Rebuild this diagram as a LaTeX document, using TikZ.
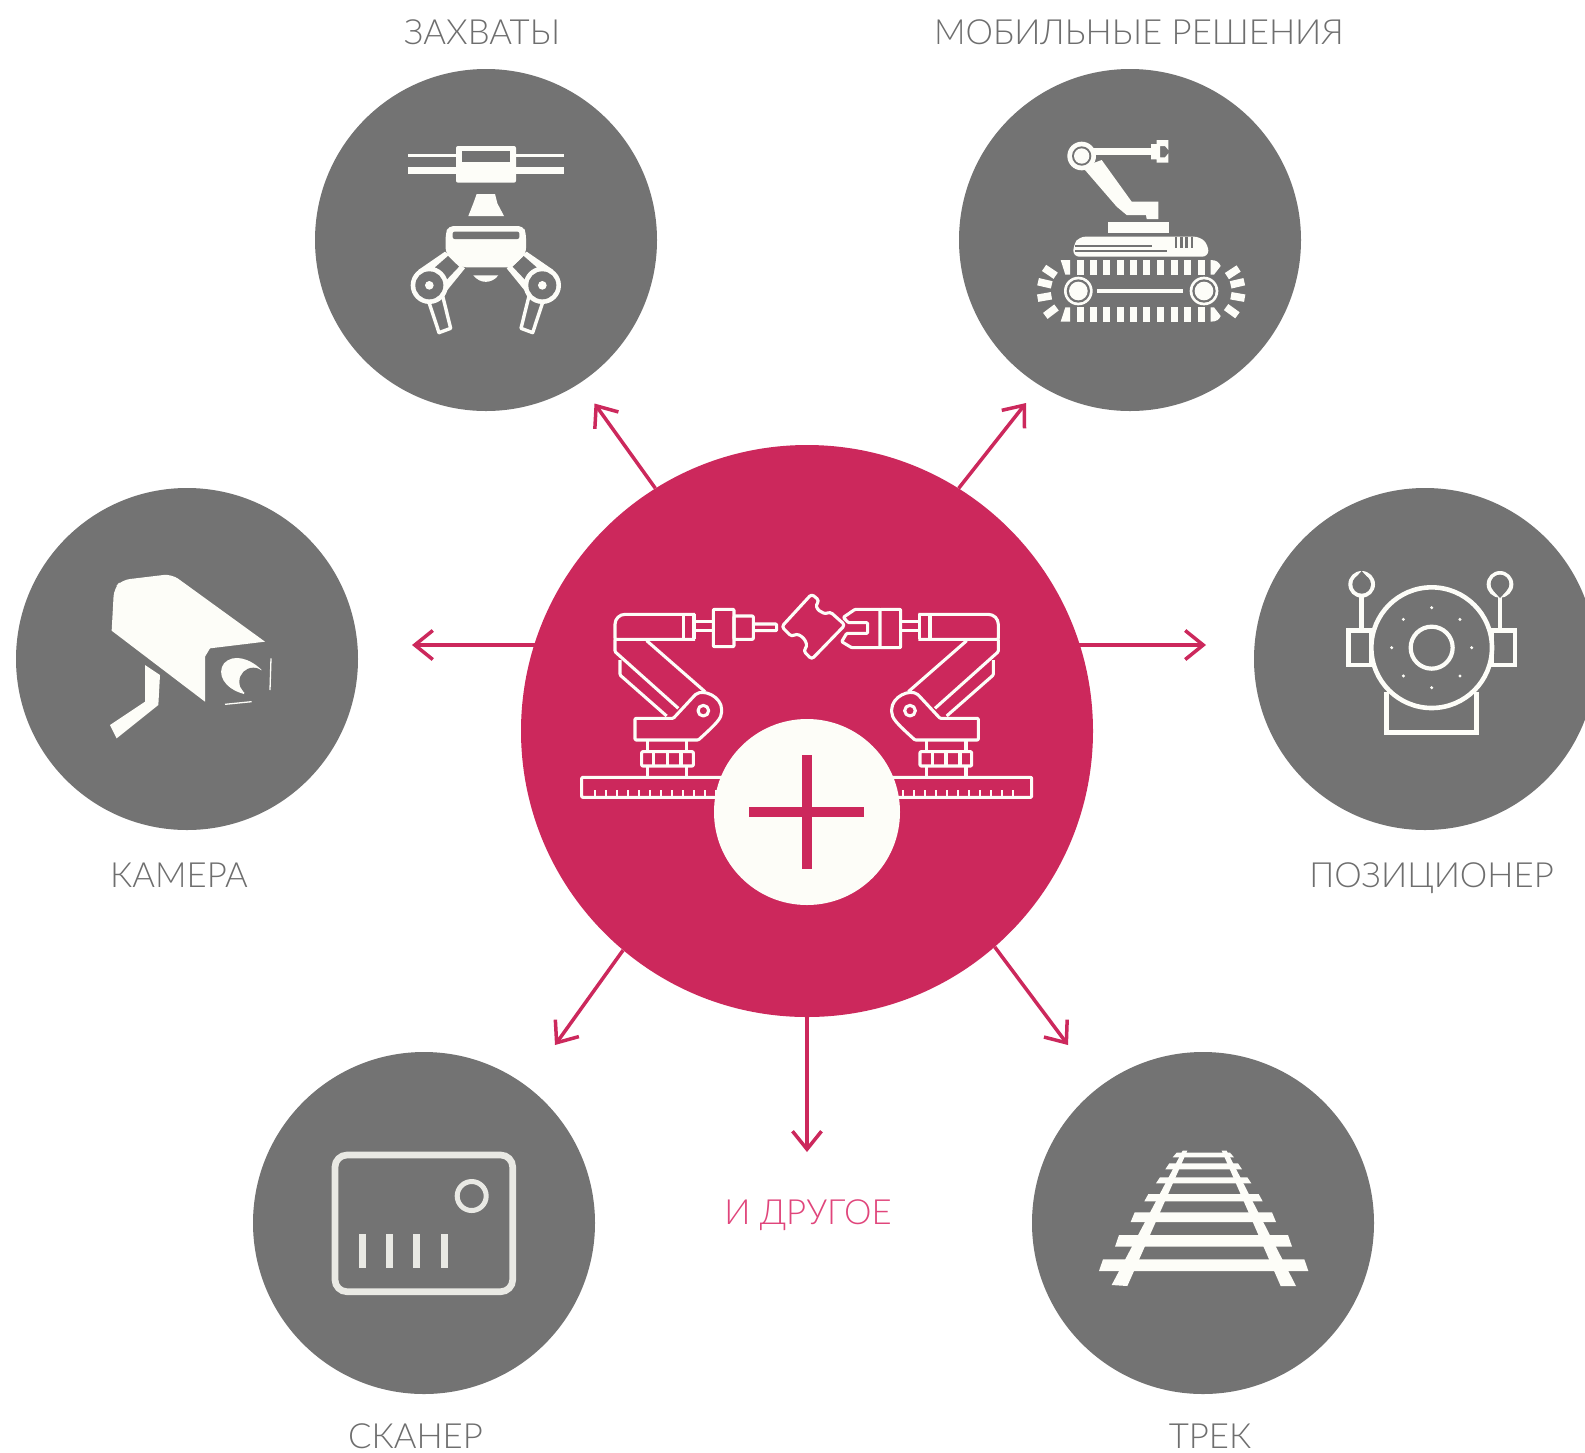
\documentclass[tikz,border=0pt]{standalone}
\usepackage{fontspec}
\setmainfont{Lato}[UprightFont={* Light}]
\usetikzlibrary{arrows.meta}
\definecolor{gr}{HTML}{737373}
\definecolor{crim}{HTML}{CC285C}
\definecolor{ic}{HTML}{FDFDF8}
\definecolor{scanc}{HTML}{E9E9E4}
\definecolor{lab}{HTML}{6E6E6E}
\definecolor{pinklab}{HTML}{E0457B}
\tikzset{
  disc/.style={circle,fill=gr,inner sep=0pt,minimum size=342pt},
  lbl/.style={text=lab,inner sep=0pt,anchor=base,font=\fontsize{34.7}{40}\selectfont},
  arr/.style={draw=crim,line width=3.5pt,-{Straight Barb[length=18pt,width=29pt,line width=3.5pt]}},
  zoomed/.style={x=0.33333pt,y=-0.33333pt},
  rob/.style={draw=ic,line width=3.1pt,line join=round,rounded corners=1pt}
}
\newcommand{\gripperarm}{%
  \draw[ic,line width=3.4pt,fill=gr,line join=round] (138,520)--(186,520)--(212,625)--(177,638)--cycle;
  \fill[ic] (195,395)--(255,445)--(190,525)--(115,450)--cycle;
  \fill[gr] (204,408)--(237,440)--(201,478)--(165,442)--cycle;
  \fill[ic] (148,496) circle[radius=56];
  \fill[gr] (148,496) circle[radius=42];
  \fill[ic] (148,496) circle[radius=13];
}
\newcommand{\robotarm}{%
  \draw[rob] (375,178)--(135,178)[rounded corners=10pt]--(135,103)--(375,103);
  \draw[rob] (340,103)--(340,178) (372,103)--(372,178);
  \draw[rob] (135,178)--(135,215)--(325,385);
  \draw[rob] (230,182)--(405,335);
  \draw[rob] (150,240)--(150,285)--(290,408);
  \draw[rob] (195,415)--(310,415)--(375,345) .. controls (400,325) and (455,350) .. (455,392) .. controls (455,415) and (440,430) .. (385,480)--(195,480)--cycle;
  \draw[rob] (400,392) circle[radius=16];
  \draw[rob] (232,482)--(232,515) (350,482)--(350,515);
  \draw[rob] (215,515) rectangle (370,558);
  \draw[rob] (250,515)--(250,558) (292,515)--(292,558) (333,515)--(333,558);
  \draw[rob] (232,558)--(232,592) (350,558)--(350,592);
}
\begin{document}
\begin{tikzpicture}[x=1pt,y=-1pt]
\useasboundingbox (0,0) rectangle (1585,1452);
\fill[white] (0,0) rectangle (1585,1452);

% arrows' free ends
\coordinate (eTL) at (594.5,403.5);
\coordinate (eTR) at (1026,403);
\coordinate (eL) at (412,645);
\coordinate (eR) at (1206,645);
\coordinate (eBL) at (555,1045);
\coordinate (eBR) at (1068,1045);
\coordinate (eD) at (807,1152);

% discs
\node[disc] (grip) at (486,240) {};
\node[disc] (mob) at (1130,240) {};
\node[disc] (cam) at (187,659) {};
\node[disc] (pos) at (1425,659) {};
\node[disc] (scan) at (424,1223) {};
\node[disc] (track) at (1203,1223) {};
\node[circle,fill=crim,inner sep=0pt,minimum size=572pt] (core) at (807,731) {};
\path (core.center) ++(-271,-86) coordinate (sL);
\path (core.center) ++(271,-86) coordinate (sR);

% connectors
\draw[arr] (core.122) -- (eTL);
\draw[arr] (core.58.5) -- (eTR);
\draw[arr] (sL) -- (eL);
\draw[arr] (sR) -- (eR);
\draw[arr] (core.230.5) -- (eBL);
\draw[arr] (core.-49.6) -- (eBR);
\draw[arr] (core.-90) -- (eD);

% labels
\node[lbl] (l1) at (482,44.5) {ЗАХВАТЫ};
\node[lbl] (l2) at (1139,44.5) {МОБИЛЬНЫЕ РЕШЕНИЯ};
\node[lbl] (l3) at (179,887.5) {КАМЕРА};
\node[lbl] (l4) at (1431.5,887.5) {ПОЗИЦИОНЕР};
\node[lbl,text=pinklab] (l5) at (808,1224.5) {И ДРУГОЕ};
\node[lbl] (l6) at (415.5,1448) {СКАНЕР};
\node[lbl] (l7) at (1210,1448) {ТРЕК};

% gripper icon
\begin{scope}[shift={(380,120)},zoomed]
  \fill[ic] (83,102) rectangle (552,112);
  \fill[ic] (83,142) rectangle (552,162);
  \fill[ic,rounded corners=2pt] (228,78) rectangle (408,188);
  \fill[gr] (245,93) rectangle (390,127);
  \fill[ic] (290,222)--(345,222)--(352,250)--(372,288)--(265,288)--(280,250)--cycle;
  \gripperarm
  \begin{scope}[shift={(635,0)},xscale=-1]\gripperarm\end{scope}
  \fill[ic,rounded corners=5pt] (197,340)--(205,318)--(430,318)--(438,340)--(438,400)--(395,442)--(245,442)--(197,400)--cycle;
  \fill[gr,rounded corners=2pt] (218,335) rectangle (418,357);
  \fill[ic] (280,466) .. controls (300,492) and (335,492) .. (355,466) -- cycle;
\end{scope}

% mobile icon
\begin{scope}[shift={(1020,120)},zoomed]
  \fill[ic] (205,84) rectangle (395,104);
  \fill[ic] (410,60)--(445,60)--(445,90)--(435,78)--(420,78)--(420,112)--(435,112)--(445,100)--(445,128)--(410,128)--(410,118)--(393,118)--(393,72)--(410,72)--cycle;
  \fill[ic] (205,135)--(245,120)--(335,245)--(415,245)--(415,297)--(380,297)--(378,285)--(320,285)--(290,260)--(195,150)--cycle;
  \fill[ic] (185,108) circle[radius=43];
  \fill[gr] (185,108) circle[radius=29];
  \fill[ic] (185,108) circle[radius=23];
  \fill[ic] (265,305) rectangle (448,340);
  \fill[ic,rounded corners=6pt] (160,410)--(160,375)--(178,350)--(540,350)--(565,375)--(565,410)--cycle;
  \fill[gr] (165,375) rectangle (395,381);
  \fill[gr] (165,391) rectangle (440,397);
  \foreach \xx in {468,484,500,516} \fill[gr] (\xx-4,352) rectangle (\xx+4,385);
  \foreach \xx in {180,220,260,300,340,380,420,462,503,543} {
    \fill[ic] (\xx-10.5,420) rectangle (\xx+10.5,464);
    \fill[ic] (\xx-10.5,562) rectangle (\xx+10.5,605);
  }
  \fill[ic] (122,420)--(150,420)--(150,464)--(136,464)--cycle;
  \fill[ic] (136,562)--(150,562)--(150,605)--(122,605)--cycle;
  \fill[ic] (572,420) .. controls (590,420) and (598,428) .. (602,438) -- (582,464) -- (572,464) -- cycle;
  \fill[ic] (572,562) -- (582,562) -- (602,588) .. controls (598,598) and (590,605) .. (572,605) -- cycle;
  \foreach \a in {146,167,190,217} \draw[ic,line width=7.5pt] ([shift={(\a:82 and -82)}]175,513) -- ([shift={(\a:124 and -124)}]175,513);
  \foreach \a in {33,13,-10,-36} \draw[ic,line width=7.5pt] ([shift={(\a:82 and -82)}]552,513) -- ([shift={(\a:124 and -124)}]552,513);
  \foreach \xx in {175,552} {
    \fill[ic] (\xx,513) circle[radius=43];
    \fill[gr] (\xx,513) circle[radius=35];
    \fill[ic] (\xx,513) circle[radius=28];
  }
  \fill[ic] (232,508) rectangle (490,518);
\end{scope}

% central robots
\begin{scope}[shift={(570,580)},zoomed]
  \robotarm
  \begin{scope}[shift={(1420,0)},xscale=-1]\robotarm\end{scope}
  \draw[rob] (375,125)--(430,125) (375,152)--(430,152);
  \draw[rob] (430,88) rectangle (492,200);
  \draw[rob] (492,108) rectangle (550,178);
  \draw[rob] (550,132)--(620,132)--(620,152)--(550,152);
  \draw[rob,rounded corners=3pt] (725,42)--(748,62) .. controls (730,85) and (760,105) .. (780,95) -- (825,135) -- (725,238) -- (700,212) .. controls (720,190) and (690,155) .. (665,170) -- (635,140) -- cycle;
  \draw[rob] (992,125)--(1048,125) (992,152)--(1048,152);
  \draw[rob] (930,88) rectangle (992,203);
  \draw[rob] (930,88)--(855,88)--(820,112)--(835,128)--(893,128)--(893,160)--(830,160)--(815,185)--(845,203)--(930,203);
  \draw[rob] (35,592) rectangle (1385,652);
  \foreach \xx in {75,108,...,1360} \draw[ic,line width=2.8pt] (\xx,652)--(\xx,630);
\end{scope}
\node[circle,fill=ic,inner sep=0pt,minimum size=186pt] (plus) at (807,812) {};
\fill[crim] (749,807) rectangle (864,817);
\fill[crim] (802,755) rectangle (812,869);

% camera icon
\begin{scope}[shift={(90,560)},zoomed]
  \fill[ic] (165,315)--(210,345)--(205,435)--(80,535)--(60,495)--(165,425)--cycle;
  \fill[ic] (345,425)--(65,212)[rounded corners=8pt]--(72,85)--(95,60)--(245,42)[sharp corners]--(525,245)--(360,265)--(345,290)--cycle;
  \fill[ic] (515,330) .. controls (480,295) and (430,280) .. (402,310) .. controls (380,340) and (400,385) .. (462,402) -- (470,365) -- cycle;
  \fill[gr] (490,365) circle[radius=42];
  \draw[ic,line width=1.3pt] (405,433)--(485,425) (543,295)--(540,390);
\end{scope}

% positioner icon
\begin{scope}[shift={(1330,560)},zoomed]
  \draw[ic,line width=4.6pt] (55,212) rectangle (125,315);
  \draw[ic,line width=4.6pt] (485,212) rectangle (555,315);
  \draw[ic,line width=4.6pt,fill=gr] (305,263) circle[radius=181];
  \draw[ic,line width=4.2pt] (305,263) circle[radius=63];
  \foreach \a in {0,45,...,315} \fill[ic] ([shift={(\a:120 and 120)}]305,263) circle[radius=5];
  \draw[ic,line width=4.6pt] (95,105)--(95,212) (510,105)--(510,212);
  \fill[ic] (95,73) circle[radius=40];
  \fill[gr] (95,73) circle[radius=28];
  \fill[gr] (75,55)--(95,33)--(115,55)--cycle;
  \fill[ic] (510,73) circle[radius=40];
  \fill[gr] (510,72) circle[radius=28];
  \fill[gr] (490,92)--(510,114)--(530,92)--cycle;
  \draw[ic,line width=4.6pt] (170,395)--(170,518)--(440,518)--(440,395);
\end{scope}

% scanner icon
\draw[scanc,line width=6.7pt,rounded corners=12pt] (335,1155) rectangle (512.7,1291.7);
\draw[scanc,line width=5pt] (471.7,1196) circle[radius=14.5];
\foreach \xx in {362.3,389.3,416.7,444} \draw[scanc,line width=7pt] (\xx,1234)--(\xx,1267.7);

% track icon
\begin{scope}[shift={(1090,1130)},zoomed]
  \fill[ic] (278,62)--(292,62)--(112,468)--(65,465)--cycle;
  \fill[ic] (395,62)--(410,62)--(618,468)--(572,468)--cycle;
  \foreach \t/\b/\l/\r in {68/82/248/432,100/118/226/456,142/160/198/484,192/214/163/518,247/276/122/558,315/350/75/606,388/423/27/655}
    \fill[ic] (\l+12,\t)--(\r-12,\t)--(\r,\b)--(\l,\b)--cycle;
\end{scope}
\end{tikzpicture}
\end{document}
